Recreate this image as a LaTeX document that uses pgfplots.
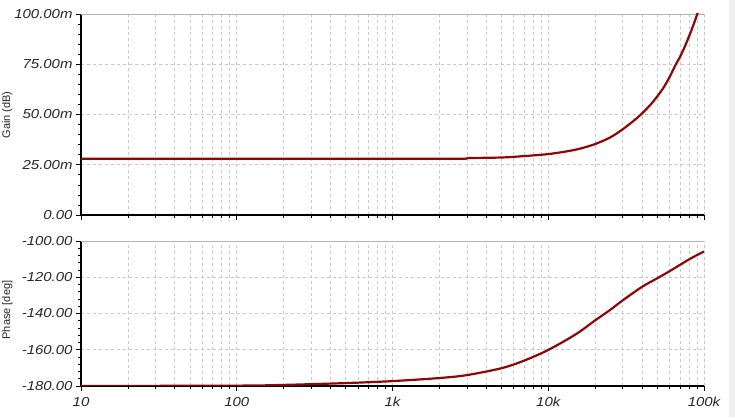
\documentclass[border=0pt]{standalone}
\usepackage{pgfplots}
\pgfplotsset{compat=1.18}
\usepackage{fontspec}
\setmainfont{Liberation Sans}
\newfontfamily\tickfont[FakeStretch=1.15]{Liberation Sans}
\definecolor{curve}{RGB}{140,8,8}
\definecolor{gridc}{RGB}{200,200,200}
\begin{document}
\begin{tikzpicture}[x=1pt,y=1pt]
\fill[white] (0,0) rectangle (735,417);
\fill[black!6] (729,0) rectangle (735,417);
% Gain
\begin{axis}[xmode=log, xmin=10, xmax=100000, scale only axis, width=623pt,
  axis x line*=bottom, axis y line*=left,
  axis line style={black, line width=1.3pt, -},
  xmajorgrids, xminorgrids, ymajorgrids,
  major grid style={gridc, dashed, line width=0.6pt},
  minor grid style={gridc, dashed, line width=0.6pt},
  minor y tick num=4,
  tick align=outside, major tick length=5pt, minor tick length=3pt,
  tick style={black, line width=0.6pt},
  ticklabel style={font=\tickfont\itshape\fontsize{13}{13}\selectfont, text=black!85},
  /pgf/number format/assume math mode=true,
  at={(81pt,202pt)}, anchor=south west, height=201pt,
  ymin=0, ymax=100, ytick={0,25,50,75,100},
  yticklabels={0.00,25.00m,50.00m,75.00m,100.00m},
  xticklabels={}]
\draw[gray!60, line width=0.8pt] (rel axis cs:0,1) -- (rel axis cs:1,1) -- (rel axis cs:1,0);
\addplot[curve, line width=2.2pt] coordinates {
(10,28.0) (100,28.0) (1000,28.0) (2950,28.0) (3050,28.35)
};
\addplot[curve, line width=2.2pt, smooth, tension=0.5] coordinates {
(3050,28.35) (5000,28.6) (7000,29.3)
(10000,30.3) (13000,31.6) (16000,33.0) (20000,35.3) (25000,38.6) (30000,42.6)
(35000,46.6) (40000,50.5) (45000,54.6) (50000,58.9) (55000,63.4) (60000,68.5)
(66000,75.0) (70000,78.5) (75000,83.5) (80000,88.7) (85000,94.0) (91500,101)
};
\end{axis}
% Phase
\begin{axis}[xmode=log, xmin=10, xmax=100000, scale only axis, width=623pt,
  axis x line*=bottom, axis y line*=left,
  axis line style={black, line width=1.3pt, -},
  xmajorgrids, xminorgrids, ymajorgrids,
  major grid style={gridc, dashed, line width=0.6pt},
  minor grid style={gridc, dashed, line width=0.6pt},
  minor y tick num=4,
  tick align=outside, major tick length=5pt, minor tick length=3pt,
  tick style={black, line width=0.6pt},
  ticklabel style={font=\tickfont\itshape\fontsize{13}{13}\selectfont, text=black!85},
  /pgf/number format/assume math mode=true,
  at={(81pt,31pt)}, anchor=south west, height=145pt,
  ymin=-180, ymax=-100, ytick={-180,-160,-140,-120,-100},
  yticklabels={-180.00,-160.00,-140.00,-120.00,-100.00},
  xtick={10,100,1000,10000,100000},
  xticklabels={10,100,1k,10k,100k},
  xticklabel style={yshift=-3pt}]
\draw[gray!60, line width=0.8pt] (rel axis cs:0,1) -- (rel axis cs:1,1) -- (rel axis cs:1,0);
\addplot[curve, line width=2.2pt, smooth, tension=0.5] coordinates {
(10,-180) (100,-179.8) (200,-179.4) (500,-178.4) (1000,-177.3) (2000,-175.6)
(3000,-174.0) (5000,-170.2) (7000,-166.0) (10000,-160.1) (15000,-151.5)
(20000,-143.8) (25000,-138.0) (30000,-132.8) (40000,-125.3) (50000,-120.6)
(60000,-116.7) (70000,-113.2) (80000,-110.2) (90000,-107.8) (100000,-105.8)
};
\end{axis}
\node[rotate=90, anchor=base, font=\fontsize{11}{11}\selectfont, text=black!85] at (10,302) {Gain (dB)};
\node[rotate=90, anchor=base, font=\fontsize{11}{11}\selectfont, text=black!85] at (10,107) {Phase [deg]};
\pgfresetboundingbox
\useasboundingbox (0,0) rectangle (735,417);
\end{tikzpicture}
\end{document}
